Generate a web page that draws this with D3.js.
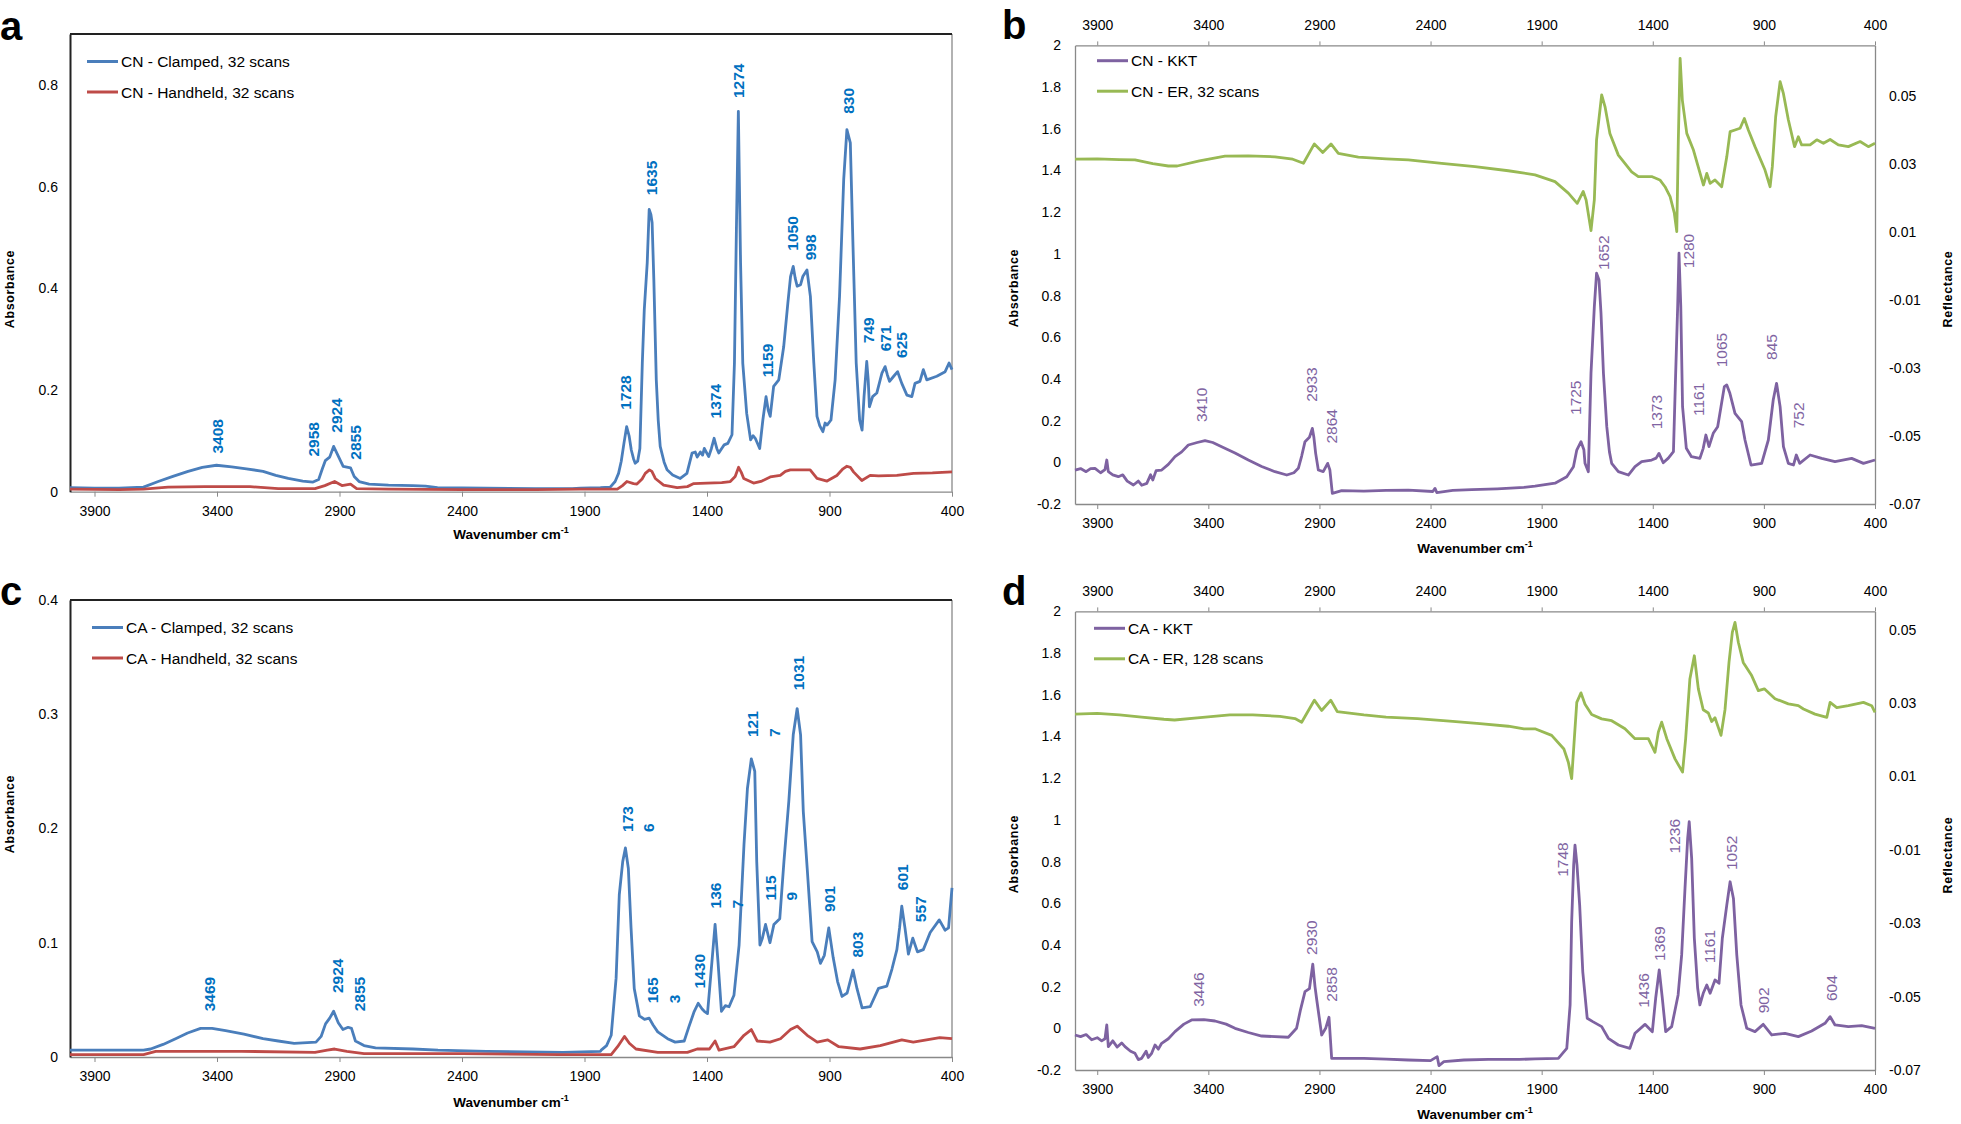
<!DOCTYPE html>
<html>
<head>
<meta charset="utf-8">
<script src="https://cdn.jsdelivr.net/npm/d3@7"></script>
<style>
  body { margin: 0; background: #fff; }
  svg { display: block; font-family: "Liberation Sans", Arial, sans-serif; }
</style>
</head>
<body>
<svg id="chart" width="1961" height="1124"></svg>
<script>
"use strict";

// ---- axis ticks ----
var xTicks = [3900, 3400, 2900, 2400, 1900, 1400, 900, 400];
var cnAbsTicks = [0, 0.2, 0.4, 0.6, 0.8];
var caAbsTicks = [0, 0.1, 0.2, 0.3, 0.4];
var kktTicks = [-0.2, 0, 0.2, 0.4, 0.6, 0.8, 1, 1.2, 1.4, 1.6, 1.8, 2];
var erTicks = [-0.07, -0.05, -0.03, -0.01, 0.01, 0.03, 0.05];

// ---- spectra: [wavenumber, value] ----
var cnClamped = [[4000,0.008],[3900,0.007],[3800,0.007],[3700,0.009],[3640,0.02],[3580,0.03],[3518,0.04],[3460,0.048],[3402,0.052],[3340,0.049],[3280,0.045],[3212,0.04],[3160,0.032],[3109,0.026],[3050,0.021],[3008,0.019],[2985,0.024],[2970,0.045],[2958,0.061],[2940,0.068],[2924,0.089],[2905,0.07],[2885,0.05],[2865,0.048],[2855,0.047],[2840,0.03],[2820,0.02],[2779,0.015],[2700,0.013],[2600,0.012],[2549,0.011],[2500,0.008],[2300,0.007],[2100,0.006],[1950,0.006],[1917,0.007],[1835,0.008],[1795,0.009],[1775,0.02],[1761,0.036],[1750,0.06],[1739,0.095],[1728,0.128],[1718,0.11],[1709,0.082],[1700,0.065],[1693,0.056],[1683,0.06],[1674,0.085],[1664,0.253],[1656,0.358],[1644,0.45],[1636,0.555],[1629,0.545],[1624,0.529],[1617,0.417],[1607,0.22],[1599,0.14],[1591,0.089],[1575,0.058],[1563,0.043],[1540,0.033],[1509,0.026],[1482,0.036],[1461,0.076],[1448,0.078],[1440,0.068],[1427,0.078],[1418,0.072],[1411,0.085],[1393,0.069],[1382,0.085],[1371,0.105],[1360,0.085],[1352,0.076],[1340,0.085],[1330,0.092],[1315,0.095],[1298,0.112],[1288,0.253],[1280,0.515],[1272,0.748],[1263,0.45],[1254,0.253],[1238,0.154],[1222,0.102],[1212,0.11],[1203,0.105],[1185,0.085],[1172,0.141],[1159,0.187],[1150,0.16],[1142,0.148],[1128,0.207],[1107,0.22],[1087,0.285],[1070,0.371],[1059,0.423],[1048,0.443],[1040,0.42],[1032,0.404],[1018,0.407],[1009,0.423],[992,0.436],[978,0.384],[964,0.253],[951,0.148],[940,0.13],[927,0.118],[918,0.135],[910,0.131],[894,0.141],[877,0.22],[859,0.384],[842,0.614],[829,0.712],[815,0.686],[804,0.482],[791,0.253],[777,0.141],[767,0.121],[759,0.187],[748,0.256],[742,0.22],[737,0.167],[724,0.187],[707,0.194],[686,0.233],[673,0.246],[664,0.23],[655,0.217],[638,0.227],[622,0.236],[605,0.213],[584,0.19],[564,0.187],[551,0.213],[531,0.217],[517,0.24],[503,0.22],[462,0.227],[428,0.236],[412,0.253],[400,0.24]];

var cnHandheld = [[4000,0.005],[3800,0.004],[3700,0.005],[3600,0.009],[3450,0.01],[3265,0.01],[3150,0.006],[3000,0.006],[2960,0.012],[2920,0.02],[2890,0.012],[2855,0.015],[2830,0.006],[2700,0.005],[2400,0.004],[2100,0.004],[1917,0.005],[1766,0.005],[1745,0.012],[1727,0.02],[1700,0.016],[1686,0.015],[1665,0.025],[1652,0.036],[1635,0.043],[1625,0.04],[1611,0.026],[1577,0.013],[1522,0.008],[1480,0.01],[1454,0.016],[1400,0.017],[1340,0.018],[1305,0.02],[1285,0.03],[1271,0.048],[1260,0.038],[1250,0.026],[1210,0.017],[1176,0.021],[1142,0.029],[1101,0.032],[1080,0.04],[1060,0.043],[1000,0.043],[979,0.043],[951,0.026],[910,0.021],[870,0.032],[845,0.045],[829,0.05],[815,0.048],[802,0.039],[768,0.022],[734,0.032],[700,0.031],[625,0.032],[557,0.036],[480,0.037],[400,0.039]];

var caClamped = [[4000,0.006],[3850,0.006],[3700,0.006],[3671,0.007],[3620,0.011],[3569,0.016],[3520,0.021],[3467,0.025],[3420,0.025],[3365,0.023],[3290,0.02],[3212,0.016],[3150,0.014],[3085,0.012],[2996,0.013],[2975,0.018],[2957,0.029],[2940,0.034],[2924,0.04],[2905,0.03],[2886,0.024],[2865,0.026],[2851,0.025],[2835,0.014],[2800,0.01],[2753,0.008],[2600,0.007],[2498,0.006],[2300,0.005],[1988,0.004],[1835,0.005],[1832,0.006],[1810,0.01],[1791,0.019],[1771,0.069],[1758,0.142],[1744,0.171],[1733,0.183],[1721,0.165],[1710,0.113],[1697,0.06],[1676,0.036],[1655,0.033],[1636,0.034],[1620,0.028],[1601,0.022],[1561,0.016],[1530,0.013],[1493,0.014],[1473,0.027],[1452,0.04],[1436,0.047],[1420,0.042],[1411,0.04],[1398,0.038],[1380,0.083],[1367,0.116],[1355,0.083],[1341,0.04],[1325,0.045],[1310,0.044],[1290,0.054],[1269,0.098],[1249,0.186],[1235,0.235],[1219,0.261],[1205,0.25],[1197,0.171],[1184,0.098],[1174,0.104],[1161,0.116],[1143,0.1],[1127,0.116],[1103,0.121],[1086,0.171],[1066,0.224],[1048,0.282],[1032,0.305],[1018,0.282],[1007,0.215],[991,0.165],[971,0.101],[950,0.092],[937,0.082],[921,0.089],[903,0.113],[885,0.087],[867,0.066],[849,0.053],[828,0.056],[804,0.076],[788,0.06],[767,0.043],[734,0.044],[700,0.06],[666,0.062],[645,0.077],[625,0.094],[614,0.113],[605,0.132],[592,0.113],[578,0.09],[560,0.104],[541,0.092],[517,0.094],[489,0.109],[452,0.12],[428,0.111],[414,0.113],[400,0.148]];

var caHandheld = [[4000,0.002],[3700,0.002],[3650,0.005],[3300,0.005],[3000,0.004],[2950,0.006],[2920,0.007],[2870,0.005],[2800,0.003],[2400,0.003],[2000,0.002],[1913,0.002],[1791,0.002],[1765,0.009],[1737,0.018],[1717,0.012],[1690,0.007],[1601,0.004],[1480,0.004],[1440,0.007],[1390,0.007],[1367,0.014],[1351,0.006],[1290,0.009],[1249,0.019],[1219,0.024],[1195,0.014],[1143,0.013],[1100,0.016],[1059,0.024],[1032,0.027],[991,0.019],[950,0.013],[907,0.015],[862,0.009],[775,0.007],[693,0.01],[605,0.015],[558,0.013],[450,0.017],[400,0.016]];

var cnKKT = [[4000,-0.037],[3975,-0.03],[3950,-0.045],[3930,-0.03],[3910,-0.029],[3885,-0.05],[3865,-0.035],[3857,0.011],[3850,-0.045],[3830,-0.06],[3805,-0.069],[3785,-0.06],[3765,-0.09],[3737,-0.109],[3715,-0.09],[3700,-0.11],[3677,-0.101],[3660,-0.06],[3650,-0.085],[3635,-0.04],[3610,-0.037],[3580,-0.01],[3550,0.027],[3520,0.05],[3490,0.083],[3450,0.095],[3415,0.104],[3380,0.095],[3340,0.075],[3280,0.045],[3220,0.011],[3160,-0.02],[3100,-0.045],[3047,-0.061],[3015,-0.05],[2995,-0.029],[2980,0.03],[2965,0.099],[2945,0.12],[2932,0.163],[2925,0.12],[2917,0.043],[2905,-0.037],[2883,-0.045],[2863,-0.005],[2853,-0.037],[2842,-0.149],[2800,-0.136],[2700,-0.138],[2600,-0.135],[2500,-0.133],[2390,-0.14],[2380,-0.125],[2372,-0.145],[2300,-0.135],[2215,-0.131],[2100,-0.127],[1980,-0.12],[1930,-0.114],[1840,-0.1],[1787,-0.069],[1757,-0.021],[1742,0.059],[1723,0.099],[1710,0.06],[1705,-0.005],[1690,-0.045],[1678,0.427],[1663,0.747],[1653,0.907],[1642,0.875],[1633,0.715],[1622,0.427],[1607,0.171],[1595,0.05],[1585,-0.005],[1555,-0.045],[1510,-0.061],[1480,-0.021],[1450,0.003],[1405,0.011],[1385,0.02],[1372,0.043],[1353,-0.002],[1330,0.02],[1307,0.051],[1297,0.427],[1288,0.747],[1282,1.003],[1274,0.747],[1266,0.267],[1249,0.067],[1226,0.027],[1188,0.019],[1173,0.067],[1161,0.131],[1147,0.075],[1128,0.139],[1108,0.171],[1093,0.267],[1078,0.363],[1067,0.371],[1053,0.331],[1030,0.235],[1000,0.195],[985,0.107],[958,-0.013],[910,-0.005],[880,0.107],[858,0.299],[843,0.379],[827,0.267],[812,0.075],[790,-0.005],[767,-0.013],[754,0.035],[739,-0.005],[692,0.035],[640,0.019],[580,0.003],[505,0.019],[452,-0.005],[400,0.011]];

var cnER = [[4000,0.0315],[3900,0.0316],[3800,0.0314],[3730,0.0313],[3650,0.0302],[3580,0.0295],[3540,0.0295],[3440,0.031],[3325,0.0324],[3220,0.0325],[3100,0.0322],[3020,0.0315],[2972,0.0303],[2923,0.036],[2885,0.0335],[2848,0.036],[2815,0.0332],[2725,0.0321],[2600,0.0316],[2500,0.0313],[2350,0.0303],[2200,0.0293],[2050,0.0281],[1930,0.0269],[1840,0.0249],[1780,0.0215],[1740,0.0185],[1713,0.022],[1700,0.0195],[1678,0.0105],[1663,0.0195],[1653,0.0372],[1630,0.0504],[1615,0.047],[1593,0.0391],[1555,0.0327],[1495,0.0278],[1465,0.0264],[1405,0.0264],[1368,0.0254],[1345,0.0234],[1322,0.0205],[1303,0.0156],[1292,0.0102],[1285,0.0372],[1277,0.0612],[1267,0.0489],[1247,0.0391],[1217,0.0342],[1187,0.0273],[1172,0.0239],[1157,0.0273],[1142,0.0244],[1120,0.0254],[1090,0.0234],[1067,0.0322],[1052,0.0396],[1030,0.0401],[1007,0.0406],[988,0.0435],[970,0.0401],[940,0.0352],[895,0.0283],[872,0.0234],[862,0.0293],[847,0.044],[827,0.0543],[812,0.0508],[790,0.0431],[762,0.0352],[745,0.0381],[730,0.0357],[692,0.0357],[662,0.0372],[632,0.0362],[602,0.0373],[565,0.0357],[520,0.0352],[467,0.0367],[430,0.0352],[400,0.0362]];

var caKKT = [[4000,-0.032],[3975,-0.04],[3950,-0.03],[3925,-0.055],[3900,-0.045],[3880,-0.06],[3865,-0.05],[3857,0.016],[3850,-0.088],[3830,-0.06],[3810,-0.09],[3790,-0.07],[3775,-0.088],[3750,-0.11],[3730,-0.12],[3715,-0.15],[3700,-0.144],[3680,-0.11],[3670,-0.14],[3655,-0.12],[3640,-0.08],[3625,-0.1],[3610,-0.072],[3580,-0.05],[3550,-0.016],[3510,0.02],[3475,0.04],[3420,0.042],[3370,0.035],[3320,0.02],[3280,0.0],[3220,-0.02],[3160,-0.037],[3040,-0.043],[3003,0.0],[2985,0.09],[2965,0.176],[2945,0.19],[2930,0.308],[2920,0.2],[2912,0.136],[2890,-0.032],[2872,0.0],[2857,0.053],[2845,-0.144],[2700,-0.144],[2600,-0.148],[2501,-0.152],[2400,-0.155],[2370,-0.136],[2362,-0.179],[2340,-0.16],[2250,-0.152],[2140,-0.149],[2000,-0.149],[1930,-0.147],[1825,-0.144],[1787,-0.096],[1772,0.112],[1765,0.511],[1756,0.783],[1750,0.879],[1741,0.783],[1729,0.591],[1715,0.271],[1695,0.048],[1670,0.032],[1630,0.008],[1600,-0.048],[1555,-0.08],[1503,-0.096],[1480,-0.024],[1435,0.019],[1402,-0.016],[1387,0.144],[1371,0.28],[1357,0.144],[1342,-0.016],[1315,0.008],[1286,0.16],[1270,0.352],[1255,0.671],[1243,0.911],[1236,0.991],[1225,0.815],[1213,0.432],[1198,0.192],[1188,0.112],[1173,0.168],[1157,0.208],[1142,0.168],[1120,0.232],[1102,0.216],[1087,0.432],[1067,0.591],[1052,0.703],[1037,0.623],[1022,0.352],[1003,0.112],[977,0.0],[940,-0.016],[903,0.019],[865,-0.032],[805,-0.024],[745,-0.04],[685,-0.013],[625,0.024],[602,0.056],[580,0.016],[520,0.008],[460,0.013],[400,0.0]];

var caER = [[4000,0.027],[3900,0.0272],[3800,0.0268],[3700,0.0262],[3600,0.0256],[3552,0.0254],[3450,0.026],[3303,0.0268],[3200,0.0268],[3078,0.0264],[3010,0.0258],[2980,0.0248],[2923,0.0308],[2890,0.028],[2849,0.0308],[2820,0.0277],[2700,0.0268],[2600,0.0262],[2459,0.0258],[2300,0.025],[2178,0.0244],[2050,0.0237],[1980,0.023],[1930,0.023],[1855,0.0212],[1800,0.0175],[1780,0.0139],[1765,0.0094],[1753,0.0203],[1742,0.0302],[1723,0.0328],[1705,0.0297],[1675,0.0269],[1630,0.0257],[1585,0.0252],[1525,0.023],[1480,0.0203],[1420,0.0203],[1390,0.0166],[1375,0.0221],[1360,0.0248],[1337,0.0203],[1300,0.0148],[1266,0.0112],[1252,0.0203],[1233,0.0366],[1213,0.0429],[1195,0.0339],[1173,0.0282],[1150,0.0273],[1135,0.025],[1120,0.026],[1093,0.0212],[1075,0.0282],[1057,0.0411],[1042,0.0493],[1030,0.052],[1015,0.0466],[993,0.0411],[955,0.0375],[925,0.0334],[898,0.0339],[850,0.0312],[790,0.0298],[745,0.0293],[722,0.0284],[670,0.027],[617,0.0261],[602,0.0302],[572,0.0288],[520,0.0293],[452,0.0302],[415,0.0293],[400,0.0275]];

// ---- peak labels: [text line(s), wavenumber, value at label foot] ----
var cnPeaks = [["3408",3397,0.075],["2958",3008,0.069],["2924",2914,0.116],["2855",2835,0.063],["1728",1731,0.161],["1635",1628,0.583],["1374",1367,0.144],["1274",1270,0.774],["1159",1153,0.225],["1050",1053,0.474],["998",979,0.455],["830",823,0.743],["749",741,0.292],["671",673,0.276],["625",605,0.263]];
var caPeaks = [["3469",3429,0.040],["2924",2908,0.056],["2855",2819,0.040],[["173","6"],1726,0.197],[["165","3"],1622,0.047],["1430",1432,0.06],[["136","7"],1364,0.130],[["121","7"],1215,0.280],[["115","9"],1143,0.137],["1031",1025,0.321],["901",899,0.127],["803",788,0.087],["601",601,0.146],["557",527,0.118]];
var cnKKTPeaks = [["3410",3429,0.193],["2933",2937,0.290],["2864",2847,0.090],["1725",1750,0.227],["1652",1623,0.923],["1373",1382,0.158],["1280",1240,0.931],["1161",1195,0.222],["1065",1090,0.456],["845",868,0.491],["752",745,0.163]];
var caKKTPeaks = [["3446",3443,0.103],["2930",2937,0.352],["2858",2844,0.128],["1748",1807,0.727],["1436",1443,0.099],["1369",1372,0.323],["1236",1303,0.839],["1161",1143,0.312],["1052",1045,0.759],["902",903,0.072],["604",595,0.131]];

var BLUE = "#4a7ebb", RED = "#be4b48", PURPLE = "#7e62a1", GREEN = "#98b954";
var BLUE_TXT = "#0070c0", PURPLE_TXT = "#8064a2", GRID = "#898989";

var svg = d3.select("#chart");

function styleAxis(sel, col) {
  sel.attr("font-size", null).attr("font-family", null);
  sel.selectAll("text").attr("font-size", 14).attr("fill", "#000");
  sel.selectAll("line").attr("stroke", col);
  sel.select(".domain").attr("stroke", col).attr("stroke-width", 1.3);
}

function drawLine(g, data, x, y, col) {
  g.append("path").datum(data)
    .attr("fill", "none").attr("stroke", col)
    .attr("stroke-width", 2.8).attr("stroke-linejoin", "round")
    .attr("d", d3.line().x(function(d) { return x(d[0]); }).y(function(d) { return y(d[1]); }));
}

function drawPeaks(g, peaks, x, y, col, bold) {
  peaks.forEach(function(p) {
    var lines = Array.isArray(p[0]) ? p[0] : [p[0]];
    var t = g.append("text")
      .attr("transform", "translate(" + x(p[1]) + "," + y(p[2]) + ") rotate(-90)")
      .attr("font-size", 15.5).attr("fill", col)
      .attr("font-weight", bold ? "bold" : "normal");
    lines.forEach(function(s, i) {
      t.append("tspan").attr("x", 0).attr("dy", i === 0 ? "0.36em" : "1.4em").text(s);
    });
  });
}

function legend(g, items, x0, y0) {
  items.forEach(function(it, i) {
    var yy = y0 + i * 30.5;
    g.append("line").attr("x1", x0).attr("x2", x0 + 31).attr("y1", yy).attr("y2", yy)
      .attr("stroke", it[1]).attr("stroke-width", 3);
    g.append("text").attr("x", x0 + 34).attr("y", yy + 5.5).attr("font-size", 15.5)
      .attr("fill", "#000").text(it[0]);
  });
}

function xTitle(g, cx, by) {
  var t = g.append("text").attr("x", cx).attr("y", by).attr("text-anchor", "middle")
    .attr("font-size", 13.5).attr("font-weight", "bold").text("Wavenumber cm");
  t.append("tspan").attr("font-size", 9).attr("dy", -6).text("-1");
}

function yTitle(g, cx, cy, s) {
  g.append("text").attr("transform", "translate(" + cx + "," + cy + ") rotate(-90)")
    .attr("text-anchor", "middle").attr("dy", "0.35em")
    .attr("font-size", 12.5).attr("font-weight", "bold").attr("letter-spacing", 0.6).text(s);
}

function letter(g, s, x, y) {
  g.append("text").attr("x", x).attr("y", y).attr("font-size", 40)
    .attr("font-weight", "bold").text(s);
}

// panels a and c: absorbance, clamped vs handheld
function absPanel(o) {
  var g = svg.append("g");
  var x = d3.scaleLinear().domain([4000, 400]).range([o.x0, o.x1]);
  var y = d3.scaleLinear().domain(o.yDomain).range([o.y1, o.y0]);

  g.append("line").attr("x1", o.x1).attr("x2", o.x1).attr("y1", o.y0).attr("y2", o.y1)
    .attr("stroke", GRID).attr("stroke-width", 1.3);
  g.append("line").attr("x1", o.x0).attr("x2", o.x1).attr("y1", o.y0).attr("y2", o.y0)
    .attr("stroke", "#222").attr("stroke-width", 2);

  g.append("g").attr("transform", "translate(0," + o.y1 + ")")
    .call(d3.axisBottom(x).tickValues(xTicks).tickSize(5).tickSizeOuter(0).tickPadding(9).tickFormat(String))
    .call(styleAxis, GRID);
  g.append("g").attr("transform", "translate(" + o.x0 + ",0)")
    .call(d3.axisLeft(y).tickValues(o.yTicks).tickSize(0).tickPadding(12).tickFormat(String))
    .call(styleAxis, "#222")
    .select(".domain").attr("stroke-width", 2);

  drawLine(g, o.series[0][2], x, y, o.series[0][1]);
  drawLine(g, o.series[1][2], x, y, o.series[1][1]);
  drawPeaks(g, o.peaks, x, y, BLUE_TXT, true);
  legend(g, o.series, o.legX, o.legY);
  xTitle(g, (o.x0 + o.x1) / 2, o.titleY);
  yTitle(g, 9.5, o.yTitleY, "Absorbance");
  letter(g, o.letter, 0, o.letterY);
}

// panels b and d: KKT absorbance vs ER reflectance
function dualPanel(o) {
  var g = svg.append("g");
  var x = d3.scaleLinear().domain([4000, 400]).range([o.x0, o.x1]);
  var y = d3.scaleLinear().domain([-0.2, 2]).range([o.y1, o.y0]);
  var yr = d3.scaleLinear().domain(o.rDomain).range([o.y1, o.y0]);

  g.append("g").attr("transform", "translate(0," + o.y0 + ")")
    .call(d3.axisTop(x).tickValues(xTicks).tickSize(4).tickSizeOuter(0).tickPadding(11).tickFormat(String))
    .call(styleAxis, GRID);
  g.append("g").attr("transform", "translate(0," + o.y1 + ")")
    .call(d3.axisBottom(x).tickValues(xTicks).tickSize(5).tickSizeOuter(0).tickPadding(9).tickFormat(String))
    .call(styleAxis, GRID);
  g.append("g").attr("transform", "translate(" + o.x0 + ",0)")
    .call(d3.axisLeft(y).tickValues(kktTicks).tickSize(0).tickPadding(14).tickFormat(String))
    .call(styleAxis, GRID);
  g.append("g").attr("transform", "translate(" + o.x1 + ",0)")
    .call(d3.axisRight(yr).tickValues(erTicks).tickSize(0).tickPadding(14).tickFormat(String))
    .call(styleAxis, GRID);

  drawLine(g, o.series[0][2], x, y, o.series[0][1]);
  drawLine(g, o.series[1][2], x, yr, o.series[1][1]);
  drawPeaks(g, o.peaks, x, y, PURPLE_TXT, false);
  legend(g, o.series, o.legX, o.legY);
  xTitle(g, (o.x0 + o.x1) / 2, o.titleY);
  yTitle(g, 1014, o.yTitleY, "Absorbance");
  yTitle(g, 1948, o.yTitleY + 1, "Reflectance");
  letter(g, o.letter, 1002, o.letterY);
}

absPanel({
  x0: 70, x1: 952, y0: 34, y1: 491.7, yDomain: [0, 0.9], yTicks: cnAbsTicks,
  series: [["CN - Clamped, 32 scans", BLUE, cnClamped], ["CN - Handheld, 32 scans", RED, cnHandheld]],
  peaks: cnPeaks, legX: 87, legY: 61.5, titleY: 539, yTitleY: 289, letter: "a", letterY: 39.5
});
absPanel({
  x0: 70, x1: 952, y0: 600, y1: 1057, yDomain: [0, 0.4], yTicks: caAbsTicks,
  series: [["CA - Clamped, 32 scans", BLUE, caClamped], ["CA - Handheld, 32 scans", RED, caHandheld]],
  peaks: caPeaks, legX: 92, legY: 627.5, titleY: 1107, yTitleY: 814, letter: "c", letterY: 605
});
dualPanel({
  x0: 1075, x1: 1875, y0: 45.4, y1: 504, rDomain: [-0.07, 0.065],
  series: [["CN - KKT", PURPLE, cnKKT], ["CN - ER, 32 scans", GREEN, cnER]],
  peaks: cnKKTPeaks, legX: 1097, legY: 60.7, titleY: 553, yTitleY: 288, letter: "b", letterY: 39
});
dualPanel({
  x0: 1075, x1: 1875, y0: 611.4, y1: 1070, rDomain: [-0.07, 0.055],
  series: [["CA - KKT", PURPLE, caKKT], ["CA - ER, 128 scans", GREEN, caER]],
  peaks: caKKTPeaks, legX: 1094, legY: 628.3, titleY: 1119, yTitleY: 854, letter: "d", letterY: 605
});
</script>
</body>
</html>
